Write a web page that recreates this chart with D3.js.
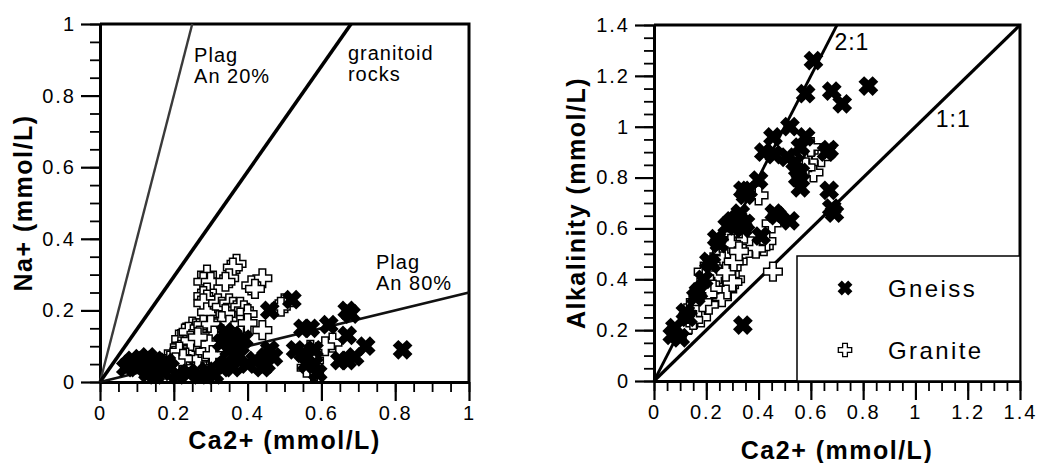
<!DOCTYPE html>
<html>
<head>
<meta charset="utf-8">
<script src="https://cdn.jsdelivr.net/npm/d3@7"></script>
<style>
  body { margin: 0; background: #fff; }
  text { font-family: "Liberation Sans", Arial, Helvetica, sans-serif; fill: #000; }
</style>
</head>
<body>
<svg id="chart" width="1041" height="463"></svg>
<script>
// ---- data ----
const naTicks = [0, 0.2, 0.4, 0.6, 0.8, 1]
const alkTicks = [0, 0.2, 0.4, 0.6, 0.8, 1, 1.2, 1.4]

// left panel: Na+ vs Ca2+
const naGneiss = [
  [0.07, 0.04], [0.08, 0.05], [0.09, 0.06], [0.10, 0.05], [0.11, 0.065], [0.12, 0.06], [0.13, 0.07],
  [0.14, 0.05], [0.15, 0.06], [0.16, 0.05], [0.13, 0.025], [0.15, 0.02], [0.17, 0.03], [0.19, 0.04],
  [0.21, 0.02], [0.24, 0.025], [0.27, 0.02], [0.29, 0.03], [0.31, 0.02], [0.33, 0.04], [0.34, 0.05],
  [0.36, 0.04], [0.35, 0.09], [0.33, 0.11], [0.36, 0.13], [0.34, 0.14], [0.38, 0.10], [0.40, 0.05],
  [0.42, 0.06], [0.45, 0.05], [0.46, 0.09], [0.45, 0.07], [0.47, 0.07], [0.46, 0.20], [0.52, 0.23],
  [0.53, 0.09], [0.55, 0.08], [0.55, 0.15], [0.57, 0.15], [0.56, 0.05], [0.58, 0.05], [0.59, 0.025],
  [0.58, 0.09], [0.62, 0.16], [0.67, 0.20], [0.68, 0.19], [0.67, 0.13], [0.65, 0.06], [0.67, 0.06],
  [0.69, 0.07], [0.72, 0.10], [0.82, 0.09], [0.37, 0.07], [0.39, 0.12], [0.35, 0.11], [0.44, 0.04],
  [0.10, 0.04], [0.12, 0.045], [0.18, 0.055]
]
const naGranite = [
  [0.37, 0.33], [0.36, 0.32], [0.29, 0.30], [0.28, 0.28], [0.30, 0.28], [0.35, 0.29], [0.34, 0.28],
  [0.44, 0.29], [0.41, 0.27], [0.42, 0.26], [0.50, 0.22], [0.49, 0.21], [0.44, 0.145], [0.63, 0.11],
  [0.61, 0.10], [0.29, 0.25], [0.28, 0.24], [0.29, 0.23], [0.28, 0.22], [0.29, 0.195], [0.32, 0.22],
  [0.33, 0.21], [0.35, 0.22], [0.36, 0.21], [0.37, 0.20], [0.38, 0.21], [0.39, 0.20], [0.40, 0.19],
  [0.38, 0.18], [0.36, 0.17], [0.34, 0.19], [0.33, 0.17], [0.35, 0.16], [0.38, 0.16], [0.40, 0.165],
  [0.25, 0.155], [0.26, 0.15], [0.23, 0.135], [0.22, 0.12], [0.22, 0.10], [0.24, 0.14], [0.27, 0.15],
  [0.29, 0.14], [0.31, 0.15], [0.28, 0.16], [0.30, 0.16], [0.20, 0.08], [0.21, 0.07], [0.22, 0.09],
  [0.23, 0.06], [0.24, 0.08], [0.24, 0.10], [0.25, 0.07], [0.25, 0.05], [0.26, 0.09], [0.26, 0.11],
  [0.27, 0.06], [0.27, 0.08], [0.28, 0.10], [0.28, 0.12], [0.29, 0.07], [0.29, 0.05], [0.30, 0.09],
  [0.30, 0.11], [0.31, 0.07], [0.31, 0.13], [0.32, 0.09], [0.32, 0.05], [0.23, 0.04], [0.21, 0.05],
  [0.19, 0.06], [0.18, 0.04], [0.17, 0.05], [0.16, 0.03], [0.26, 0.03], [0.28, 0.04], [0.22, 0.03],
  [0.25, 0.12], [0.27, 0.13], [0.56, 0.07], [0.57, 0.09], [0.58, 0.06], [0.58, 0.03], [0.56, 0.04],
  [0.235, 0.075], [0.255, 0.085], [0.265, 0.065], [0.275, 0.095], [0.285, 0.085], [0.295, 0.105],
  [0.305, 0.075], [0.245, 0.115], [0.265, 0.125], [0.215, 0.085], [0.225, 0.065], [0.205, 0.055]
]
const naLines = [
  { name: 'an20', slope: 4, label: ['Plag', 'An 20%'], at: [0.255, 0.894] },
  { name: 'granitoid', slope: 1.47, label: ['granitoid', 'rocks'], at: [0.672, 0.90] },
  { name: 'an80', slope: 0.25, label: ['Plag', 'An 80%'], at: [0.748, 0.316] }
]

// right panel: Alkalinity vs Ca2+
const alkGneiss = [
  [0.61, 1.26], [0.58, 1.13], [0.68, 1.14], [0.72, 1.09], [0.82, 1.16], [0.52, 1.00], [0.455, 0.96],
  [0.42, 0.90], [0.46, 0.89], [0.58, 0.96], [0.56, 0.92], [0.51, 0.88], [0.54, 0.86], [0.66, 0.90],
  [0.67, 0.91], [0.56, 0.82], [0.55, 0.80], [0.56, 0.76], [0.67, 0.75], [0.68, 0.68], [0.69, 0.66],
  [0.40, 0.79], [0.36, 0.75], [0.34, 0.75], [0.35, 0.73], [0.52, 0.63], [0.46, 0.66], [0.47, 0.65],
  [0.34, 0.22], [0.33, 0.66], [0.32, 0.64], [0.35, 0.62], [0.34, 0.60], [0.41, 0.57], [0.24, 0.56],
  [0.25, 0.54], [0.22, 0.46], [0.21, 0.47], [0.17, 0.35], [0.16, 0.33], [0.12, 0.27], [0.13, 0.25],
  [0.08, 0.21], [0.07, 0.18], [0.10, 0.17], [0.19, 0.40], [0.28, 0.61], [0.30, 0.63]
]
const alkGranite = [
  [0.40, 0.73], [0.45, 0.62], [0.455, 0.43], [0.18, 0.25], [0.19, 0.43], [0.42, 0.53], [0.61, 0.82],
  [0.64, 0.88], [0.43, 0.55], [0.31, 0.40], [0.14, 0.27], [0.15, 0.29], [0.16, 0.31], [0.17, 0.33],
  [0.18, 0.35], [0.19, 0.37], [0.20, 0.39], [0.21, 0.41], [0.22, 0.43], [0.23, 0.45], [0.24, 0.47],
  [0.25, 0.49], [0.26, 0.51], [0.27, 0.53], [0.28, 0.55], [0.29, 0.57], [0.30, 0.58], [0.31, 0.60],
  [0.17, 0.29], [0.19, 0.32], [0.21, 0.35], [0.22, 0.38], [0.24, 0.40], [0.25, 0.43], [0.27, 0.45],
  [0.28, 0.48], [0.30, 0.50], [0.31, 0.53], [0.33, 0.55], [0.35, 0.55], [0.37, 0.53], [0.39, 0.52],
  [0.34, 0.50], [0.32, 0.47], [0.29, 0.42], [0.27, 0.39], [0.25, 0.36], [0.23, 0.33], [0.21, 0.30],
  [0.26, 0.33], [0.28, 0.36], [0.30, 0.39], [0.13, 0.22], [0.11, 0.20], [0.15, 0.24], [0.57, 0.88],
  [0.58, 0.90], [0.59, 0.86], [0.56, 0.86], [0.58, 0.84], [0.60, 0.92], [0.235, 0.44], [0.255, 0.46],
  [0.265, 0.48], [0.285, 0.52], [0.295, 0.54], [0.245, 0.42], [0.275, 0.43], [0.215, 0.38],
  [0.225, 0.36], [0.305, 0.47], [0.325, 0.51], [0.205, 0.34], [0.185, 0.31]
]
const alkLines = [
  { name: 'r21', slope: 2, label: ['2:1'], at: [0.69, 1.30] },
  { name: 'r11', slope: 1, label: ['1:1'], at: [1.078, 1.0] }
]
const legendItems = ['Gneiss', 'Granite']

// ---- styles ----
const lineStyle = {
  an20: { color: '#3a3a3a', width: 2.4 },
  granitoid: { color: '#000', width: 3.6 },
  an80: { color: '#111', width: 2.8 },
  r21: { color: '#000', width: 2.8 },
  r11: { color: '#000', width: 3.2 }
}
const crossX = 'M-4,-10H4V-4H10V4H4V10H-4V4H-10V-4H-4Z'
const crossPlus = 'M-3.3,-9.3H3.3V-3.3H9.3V3.3H3.3V9.3H-3.3V3.3H-9.3V-3.3H-3.3Z'

const svg = d3.select('#chart')

let styleAxis = function (sel, w) {
  sel.select('.domain').attr('stroke', '#000').attr('stroke-width', 3)
  sel.selectAll('.tick line').attr('stroke', '#000').attr('stroke-width', w)
  sel.selectAll('.tick text')
    .attr('fill', '#000')
    .style('font-size', '20px')
    .style('letter-spacing', '2px')
}

let drawPanel = function (p) {
  let x = d3.scaleLinear().domain([0, p.max]).range([p.left, p.right])
  let y = d3.scaleLinear().domain([0, p.max]).range([p.bottom, p.top])
  let g = svg.append('g')
  let minor = d3.range(0, p.max + 0.001, 0.05)
  let fmt = d => d3.format('')(+d.toFixed(1))

  // frame (top + right)
  g.append('path')
    .attr('d', `M${p.left},${p.top}H${p.right}V${p.bottom}`)
    .attr('fill', 'none').attr('stroke', '#000').attr('stroke-width', 3)

  // minor then major ticks
  g.append('g').attr('transform', `translate(0,${p.bottom})`)
    .call(d3.axisBottom(x).tickValues(minor).tickSize(10).tickSizeOuter(0).tickFormat(''))
    .call(styleAxis, 1.8)
  g.append('g').attr('transform', `translate(${p.left},0)`)
    .call(d3.axisLeft(y).tickValues(minor).tickSize(10).tickSizeOuter(0).tickFormat(''))
    .call(styleAxis, 1.8)
  g.append('g').attr('transform', `translate(0,${p.bottom})`)
    .call(d3.axisBottom(x).tickValues(p.ticks).tickSize(19).tickSizeOuter(0).tickPadding(5).tickFormat(fmt))
    .call(styleAxis, 2.2)
  g.append('g').attr('transform', `translate(${p.left},0)`)
    .call(d3.axisLeft(y).tickValues(p.ticks).tickSize(19).tickSizeOuter(0).tickPadding(5).tickFormat(fmt))
    .call(styleAxis, 2.2)

  // reference lines through the origin
  p.lines.forEach(l => {
    let xe = Math.min(p.max, p.max / l.slope)
    g.append('line')
      .attr('x1', x(0)).attr('y1', y(0))
      .attr('x2', x(xe)).attr('y2', y(xe * l.slope))
      .attr('stroke', lineStyle[l.name].color)
      .attr('stroke-width', lineStyle[l.name].width)
    let t = g.append('text')
      .attr('x', x(l.at[0])).attr('y', y(l.at[1]))
      .style('font-size', p.labelSize).style('letter-spacing', '1px')
    l.label.forEach((s, i) => {
      t.append('tspan').attr('x', x(l.at[0])).attr('dy', i === 0 ? 0 : 21).text(s)
    })
  })

  // points: granite first, gneiss on top
  g.append('g').selectAll('path')
    .data(p.granite).enter().append('path')
    .attr('d', crossPlus)
    .attr('transform', d => `translate(${x(d[0])},${y(d[1])})`)
    .attr('fill', '#fff').attr('stroke', '#000').attr('stroke-width', 1.5)
  g.append('g').selectAll('path')
    .data(p.gneiss).enter().append('path')
    .attr('d', crossX)
    .attr('transform', d => `translate(${x(d[0])},${y(d[1])}) rotate(45)`)
    .attr('fill', '#000')

  // axis titles
  g.append('text')
    .attr('x', (p.left + p.right) / 2).attr('y', p.xTitleY)
    .attr('text-anchor', 'middle')
    .style('font-size', '25px').style('font-weight', 'bold').style('letter-spacing', '1.5px')
    .text(p.xTitle)
  g.append('text')
    .attr('transform', `translate(${p.yTitleX},${(p.top + p.bottom) / 2}) rotate(-90)`)
    .attr('text-anchor', 'middle')
    .style('font-size', '25px').style('font-weight', 'bold').style('letter-spacing', '1.5px')
    .text(p.yTitle)
  return { x, y, g }
}

drawPanel({
  left: 100, right: 469, top: 24, bottom: 382, max: 1,
  ticks: naTicks, lines: naLines, gneiss: naGneiss, granite: naGranite,
  labelSize: '20px',
  xTitle: 'Ca2+ (mmol/L)', xTitleY: 449,
  yTitle: 'Na+ (mmol/L)', yTitleX: 32
})

drawPanel({
  left: 654, right: 1020, top: 25, bottom: 381, max: 1.4,
  ticks: alkTicks, lines: alkLines, gneiss: alkGneiss, granite: alkGranite,
  labelSize: '23px',
  xTitle: 'Ca2+ (mmol/L)', xTitleY: 459,
  yTitle: 'Alkalinity (mmol/L)', yTitleX: 585
})

// legend box
let legend = svg.append('g')
legend.append('rect')
  .attr('x', 797).attr('y', 256).attr('width', 223).attr('height', 125)
  .attr('fill', '#fff').attr('stroke', '#000').attr('stroke-width', 1.5)
legendItems.forEach((name, i) => {
  let cy = 288 + i * 62
  legend.append('path')
    .attr('d', i === 0 ? crossX : crossPlus)
    .attr('transform', `translate(845,${cy})` + (i === 0 ? ' rotate(45) scale(0.75)' : ' scale(0.72)'))
    .attr('fill', i === 0 ? '#000' : '#fff')
    .attr('stroke', i === 0 ? 'none' : '#000')
    .attr('stroke-width', 1.8)
  legend.append('text')
    .attr('x', 888).attr('y', cy + 9)
    .style('font-size', '24px').style('letter-spacing', '2.4px')
    .text(name)
})
</script>
</body>
</html>
